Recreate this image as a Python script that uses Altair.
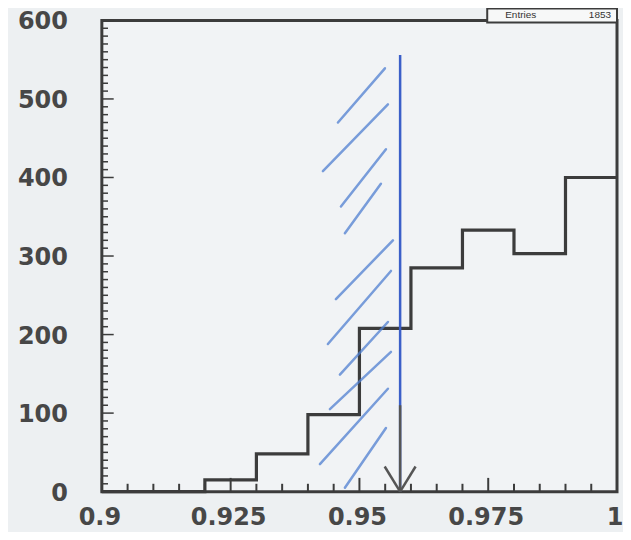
import altair as alt
import pandas as pd

# Histogram (bin edges and contents)
bin_edges = [0.90, 0.92, 0.93, 0.94, 0.95, 0.96, 0.97, 0.98, 0.99, 1.00]
bin_counts = [0, 15, 48, 98, 208, 285, 333, 303, 400]
entries = 1853

# Hand-drawn cut line
cut_x = 0.9579
cut_top = 556
arrow_stem_top = 110

# Hand-drawn hatch strokes (x1, y1, x2, y2)
hatch_x1 = [0.94583, 0.94291, 0.94641, 0.94718, 0.94544, 0.94388, 0.94621, 0.94427, 0.94233, 0.94718]
hatch_y1 = [470, 408, 363, 329, 245, 188, 149, 105, 35, 5]
hatch_x2 = [0.95495, 0.95553, 0.95515, 0.95417, 0.95650, 0.95612, 0.95553, 0.95612, 0.95553, 0.95515]
hatch_y2 = [539, 493, 436, 392, 320, 281, 216, 178, 131, 81]

x_labels = [0.9, 0.925, 0.95, 0.975, 1.0]
x_label_text = ["0.9", "0.925", "0.95", "0.975", "1"]
y_labels = [0, 100, 200, 300, 400, 500, 600]

W, H = 516, 472
FONT = "DejaVu Sans"
INK = "#3c3c3c"
LAB = "#474747"

xs = alt.Scale(domain=[0.9, 1.0], nice=False, zero=False)
ys = alt.Scale(domain=[0, 600], nice=False)


def X(f):
    return alt.X(f, scale=xs, axis=None)


def Y(f):
    return alt.Y(f, scale=ys, axis=None)


hist_df = pd.DataFrame({"x": bin_edges, "y": bin_counts + [bin_counts[-1]]})
hist = alt.Chart(hist_df).mark_line(
    interpolate="step-after", color=INK, strokeWidth=3.2
).encode(x=X("x:Q"), y=Y("y:Q"))

# inward ROOT-style ticks (lengths in data units)
xt_vals = [round(0.9 + 0.005 * i, 4) for i in range(21)]
xt_len = [17.5 if i % 5 == 0 else 10.0 for i in range(21)]
xt_df = pd.DataFrame({"tx": xt_vals, "ty": [0.0] * 21, "ty2": xt_len})
xticks = alt.Chart(xt_df).mark_rule(color=INK, strokeWidth=2).encode(
    x=X("tx:Q"), x2="tx:Q", y=Y("ty:Q"), y2="ty2:Q")

yt_vals = [float(10 * i) for i in range(61)]
yt_df = pd.DataFrame({"ty": yt_vals, "tx": [0.9] * 61,
                      "tx2": [0.9 + (0.0023 if i % 10 == 0 else 0.0012) for i in range(61)]})
yticks = alt.Chart(yt_df).mark_rule(color=INK, strokeWidth=1.5).encode(
    x=X("tx:Q"), x2="tx2:Q", y=Y("ty:Q"), y2="ty:Q")

# axis labels
xl_df = pd.DataFrame({"lx": x_labels, "ly": [0.0] * 5, "t": x_label_text})
xlabels = alt.Chart(xl_df).mark_text(
    font=FONT, fontSize=24, fontWeight="bold", color=LAB,
    align="center", baseline="alphabetic", dy=33, dx=-2).encode(
    x=X("lx:Q"), y=Y("ly:Q"), text="t:N")

yl_df = pd.DataFrame({"ly": y_labels, "t": [str(v) for v in y_labels]})
ylabels = alt.Chart(yl_df).mark_text(
    font=FONT, fontSize=24, fontWeight="bold", color=LAB,
    align="right", baseline="middle", dy=2).encode(
    x=alt.value(-34), y=Y("ly:Q"), text="t:N")

hatch_df = pd.DataFrame({"hx": hatch_x1, "hy": hatch_y1, "hx2": hatch_x2, "hy2": hatch_y2})
hatch = alt.Chart(hatch_df).mark_rule(color="#4f7fd0", strokeWidth=2.5, opacity=0.75,
                                       strokeCap="round").encode(
    x=X("hx:Q"), y=Y("hy:Q"), x2="hx2:Q", y2="hy2:Q")

cut_df = pd.DataFrame({"cx": [cut_x], "cy": [0], "cy2": [cut_top]})
cut = alt.Chart(cut_df).mark_rule(color="#3b5fc8", strokeWidth=2.5).encode(
    x=X("cx:Q"), x2="cx:Q", y=Y("cy:Q"), y2="cy2:Q")

stem_df = pd.DataFrame({"sx": [cut_x], "sy": [0], "sy2": [arrow_stem_top]})
stem = alt.Chart(stem_df).mark_rule(color="#555555", strokeWidth=2.5).encode(
    x=X("sx:Q"), x2="sx:Q", y=Y("sy:Q"), y2="sy2:Q")

head_df = pd.DataFrame({"ax": [cut_x - 0.003, cut_x + 0.003], "ay": [32, 32],
                        "ax2": [cut_x, cut_x], "ay2": [0, 0]})
head = alt.Chart(head_df).mark_rule(color="#555555", strokeWidth=2.5).encode(
    x=X("ax:Q"), y=Y("ay:Q"), x2="ax2:Q", y2="ay2:Q")

# stats box
box = alt.Chart(pd.DataFrame({"a": [0]})).mark_rect(
    fill="#f7f8f8", stroke=INK, strokeWidth=2).encode(
    x=alt.value(W - 130), x2=alt.value(W), y=alt.value(-12), y2=alt.value(2))
box_df = pd.DataFrame({"label": ["Entries"], "value": [str(entries)]})
box_lab = alt.Chart(box_df).mark_text(
    font="Liberation Sans", fontSize=10, color="#333333", align="left",
    baseline="middle").encode(
    text="label:N", x=alt.value(W - 112), y=alt.value(-5))
box_val = alt.Chart(box_df).mark_text(
    font="Liberation Sans", fontSize=10, color="#333333", align="right",
    baseline="middle").encode(
    text="value:N", x=alt.value(W - 6), y=alt.value(-5))

chart = alt.layer(
    hist, hatch, cut, stem, head, xticks, yticks, xlabels, ylabels,
    box, box_lab, box_val,
).properties(
    width=W, height=H,
    autosize=alt.AutoSizeParams(type="none"),
    padding={"left": 94, "top": 12, "right": 6, "bottom": 40},
    background="#edf0f2",
).configure_view(
    stroke=INK, strokeWidth=3, fill="#f1f3f5"
)

chart.save("out.html", embed_options={"renderer": "svg", "actions": False})
